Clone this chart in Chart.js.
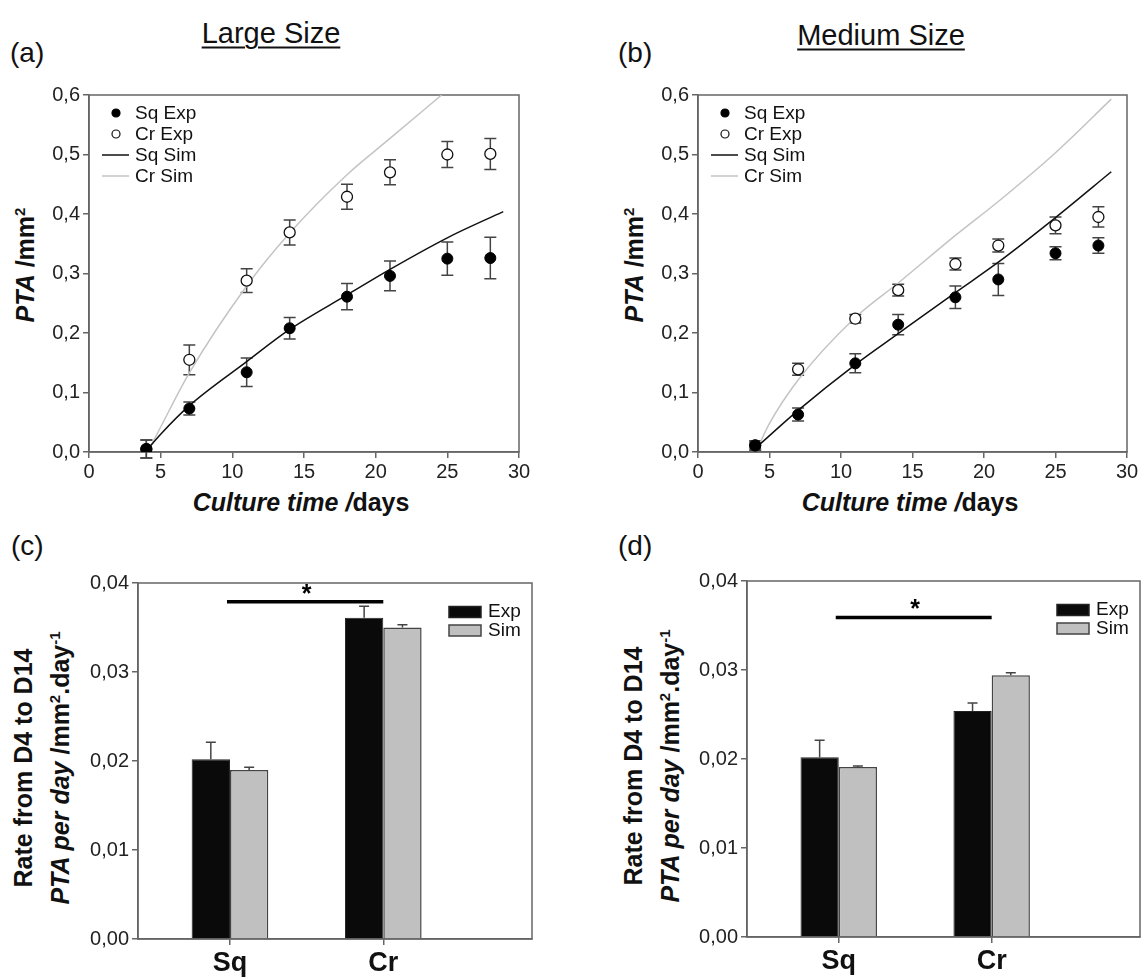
<!DOCTYPE html>
<html>
<head>
<meta charset="utf-8">
<script src="https://cdn.jsdelivr.net/npm/chart.js@4.4.1/dist/chart.umd.min.js"></script>
<style>
  body { margin: 0; background: #fff; }
  #fig { position: relative; width: 1144px; height: 979px; font-family: "Liberation Sans", Arial, sans-serif; color: #111; overflow: hidden; }
  canvas { position: absolute; }
  .t { position: absolute; white-space: nowrap; transform: translate(-50%, -50%); line-height: 1; }
  .lab { position: absolute; font-size: 28px; transform: translateY(-50%); line-height: 1; }
  .head { font-size: 29px; text-decoration: underline; text-decoration-thickness: 2px; text-underline-offset: 4px; }
  .xt { font-size: 25px; font-weight: bold; }
  .yt { font-size: 25px; font-weight: bold; transform: translate(-50%, -50%) rotate(-90deg); }
  sup { font-size: 60%; }
</style>
</head>
<body>
<div id="fig">
  <div class="lab" style="left:10px;top:53px">(a)</div>
  <div class="lab" style="left:618px;top:53px">(b)</div>
  <div class="lab" style="left:11px;top:546px">(c)</div>
  <div class="lab" style="left:618px;top:546px">(d)</div>
  <div class="t head" style="left:271px;top:33px">Large Size</div>
  <div class="t head" style="left:881px;top:35px">Medium Size</div>
  <div class="t xt" style="left:301px;top:502px"><i>Culture time /</i>days</div>
  <div class="t xt" style="left:910px;top:502px"><i>Culture time /</i>days</div>
  <div class="t yt" style="left:25px;top:265px"><i>PTA</i> /mm<sup>2</sup></div>
  <div class="t yt" style="left:634px;top:265px"><i>PTA</i> /mm<sup>2</sup></div>
  <div class="t yt" style="left:23px;top:768px">Rate from D4 to D14</div>
  <div class="t yt" style="left:60px;top:768px"><i>PTA per day</i> /mm<sup>2</sup>.day<sup>-1</sup></div>
  <div class="t yt" style="left:633px;top:766px">Rate from D4 to D14</div>
  <div class="t yt" style="left:670px;top:766px"><i>PTA per day</i> /mm<sup>2</sup>.day<sup>-1</sup></div>

  <canvas id="cA" width="506" height="407" style="left:29px;top:80px"></canvas>
  <canvas id="cB" width="505" height="407" style="left:638px;top:80px"></canvas>
  <canvas id="cC" width="454" height="411" style="left:82px;top:568px"></canvas>
  <canvas id="cD" width="453" height="411" style="left:691px;top:566px"></canvas>
</div>
<script>
// culture days
const days = [4, 7, 11, 14, 18, 21, 25, 28];

// (a) large size
const sqExpA = [0.005, 0.073, 0.134, 0.208, 0.261, 0.296, 0.325, 0.326];
const sqErrA = [0.015, 0.011, 0.024, 0.018, 0.022, 0.025, 0.028, 0.035];
const crExpA = [0.005, 0.155, 0.288, 0.369, 0.429, 0.470, 0.500, 0.501];
const crErrA = [0.015, 0.025, 0.020, 0.021, 0.021, 0.021, 0.022, 0.026];
const sqSimDaysA = [4.1, 5, 7, 11, 14, 18, 21, 25, 28.9];
const sqSimA = [0.005, 0.030, 0.078, 0.152, 0.206, 0.264, 0.307, 0.360, 0.404];
const crSimDaysA = [4.1, 5, 7, 11, 14, 18, 21, 24.6];
const crSimA = [0.0, 0.042, 0.133, 0.279, 0.368, 0.466, 0.527, 0.6];

// (b) medium size
const sqExpB = [0.011, 0.063, 0.149, 0.214, 0.260, 0.290, 0.334, 0.347];
const sqErrB = [0.006, 0.011, 0.016, 0.017, 0.019, 0.027, 0.011, 0.013];
const crExpB = [0.011, 0.139, 0.224, 0.272, 0.316, 0.347, 0.381, 0.395];
const crErrB = [0.008, 0.010, 0.007, 0.010, 0.010, 0.011, 0.014, 0.017];
const sqSimDaysB = [4, 7, 11, 14, 18, 21, 25, 28.9];
const sqSimB = [0.006, 0.070, 0.147, 0.199, 0.268, 0.319, 0.394, 0.471];
const crSimDaysB = [4.1, 5, 7, 11, 14, 18, 21, 25, 28.9];
const crSimB = [0.003, 0.048, 0.121, 0.226, 0.284, 0.364, 0.421, 0.503, 0.593];

// (c), (d) rate from D4 to D14
const cats = ['Sq', 'Cr'];
const expC = [0.0202, 0.0361];
const expErrC = [0.0019, 0.0013];
const simC = [0.0190, 0.0350];
const simErrC = [0.0003, 0.0003];
const sigC = [1, 2, 0.0379];
const expD = [0.0202, 0.0254];
const expErrD = [0.0019, 0.0009];
const simD = [0.0191, 0.0294];
const simErrD = [0.0001, 0.0003];
const sigD = [1, 2, 0.0359];

const FONT = '"Liberation Sans", Arial, sans-serif';
const AXIS = '#666';

const pts = (xs, ys) => xs.map((x, i) => ({ x: x, y: ys[i] }));
const comma = d => v => v.toFixed(d).replace('.', ',');

// box round the plot area
const frame = {
  id: 'frame',
  beforeDatasetsDraw(chart) {
    const a = chart.chartArea, ctx = chart.ctx;
    ctx.save();
    ctx.strokeStyle = AXIS;
    ctx.lineWidth = 1.5;
    ctx.strokeRect(a.left, a.top, a.right - a.left, a.bottom - a.top);
    ctx.restore();
  }
};

// vertical error bars from dataset.errors
const errorBars = {
  id: 'errorBars',
  beforeDatasetsDraw(chart) {
    const ctx = chart.ctx, ys = chart.scales.y;
    ctx.save();
    ctx.strokeStyle = '#444';
    ctx.lineWidth = 1.5;
    chart.data.datasets.forEach((ds, i) => {
      if (!ds.errors) return;
      const meta = chart.getDatasetMeta(i);
      meta.data.forEach((el, j) => {
        const v = ds.data[j].y, e = ds.errors[j];
        const bar = chart.config.type === 'bar';
        const y1 = ys.getPixelForValue(v + e);
        const y0 = bar ? el.y : ys.getPixelForValue(v - e);
        const w = bar ? 5 : 6;
        ctx.beginPath();
        ctx.moveTo(el.x, y0); ctx.lineTo(el.x, y1);
        ctx.moveTo(el.x - w, y1); ctx.lineTo(el.x + w, y1);
        if (!bar) { ctx.moveTo(el.x - w, y0); ctx.lineTo(el.x + w, y0); }
        ctx.stroke();
      });
    });
    ctx.restore();
  }
};

// legend drawn inside the plot area
const innerLegend = {
  id: 'innerLegend',
  afterDraw(chart, args, o) {
    const ctx = chart.ctx, a = chart.chartArea;
    ctx.save();
    ctx.font = o.size + 'px ' + FONT;
    ctx.textBaseline = 'middle';
    ctx.fillStyle = '#111';
    const x0 = o.right ? a.right - o.x : a.left + o.x;
    chart.data.datasets.forEach((ds, i) => {
      const y = a.top + o.y + i * o.dy;
      if (chart.config.type === 'bar') {
        ctx.fillStyle = ds.backgroundColor;
        ctx.strokeStyle = ds.borderColor;
        ctx.lineWidth = 1.5;
        ctx.fillRect(x0, y - 5.5, 32, 11);
        ctx.strokeRect(x0, y - 5.5, 32, 11);
        ctx.fillStyle = '#111';
        ctx.fillText(ds.label, x0 + 39, y);
        return;
      }
      if (ds.showLine === false) {
        ctx.beginPath();
        ctx.arc(x0 + 14, y, 4, 0, Math.PI * 2);
        ctx.fillStyle = ds.pointBackgroundColor;
        ctx.fill();
        ctx.strokeStyle = ds.pointBorderColor;
        ctx.lineWidth = 1.2;
        ctx.stroke();
      } else {
        ctx.beginPath();
        ctx.moveTo(x0, y); ctx.lineTo(x0 + 27, y);
        ctx.strokeStyle = ds.borderColor;
        ctx.lineWidth = 1.5;
        ctx.stroke();
      }
      ctx.fillStyle = '#111';
      ctx.fillText(ds.label, x0 + 33, y + 1);
    });
    ctx.restore();
  }
};

// significance bar with star
const signif = {
  id: 'signif',
  afterDatasetsDraw(chart, args, o) {
    const ctx = chart.ctx, xs = chart.scales.x, ys = chart.scales.y;
    const x1 = xs.getPixelForValue(o.line[0]), x2 = xs.getPixelForValue(o.line[1]);
    const y = ys.getPixelForValue(o.line[2]);
    ctx.save();
    ctx.strokeStyle = '#000';
    ctx.lineWidth = 3.5;
    ctx.beginPath(); ctx.moveTo(x1 - 3, y); ctx.lineTo(x2, y); ctx.stroke();
    ctx.fillStyle = '#000';
    ctx.font = 'bold 25px ' + FONT;
    ctx.textAlign = 'center';
    ctx.textBaseline = 'middle';
    ctx.fillText('*', (x1 + x2) / 2, y - 7);
    ctx.restore();
  }
};

function tickFont(size, weight) {
  return { family: FONT, size: size, weight: weight || 'normal' };
}

function lineChart(id, sqExp, sqErr, crExp, crErr, sqX, sqSim, crX, crSim) {
  return new Chart(document.getElementById(id), {
    type: 'scatter',
    data: {
      datasets: [
        { label: 'Sq Exp', data: pts(days, sqExp), errors: sqErr, showLine: false, order: 1,
          pointRadius: 5.5, pointBackgroundColor: '#000', pointBorderColor: '#000', pointBorderWidth: 1 },
        { label: 'Cr Exp', data: pts(days, crExp), errors: crErr, showLine: false, order: 2,
          pointRadius: 5.5, pointBackgroundColor: '#fff', pointBorderColor: '#111', pointBorderWidth: 1.3 },
        { label: 'Sq Sim', data: pts(sqX, sqSim), showLine: true, order: 3, pointRadius: 0,
          borderColor: '#111', borderWidth: 1.5, cubicInterpolationMode: 'monotone' },
        { label: 'Cr Sim', data: pts(crX, crSim), showLine: true, order: 4, pointRadius: 0,
          borderColor: '#c4c4c4', borderWidth: 1.5, cubicInterpolationMode: 'monotone' }
      ]
    },
    options: {
      responsive: false,
      animation: false,
      events: [],
      layout: { padding: { top: 14, right: 16, left: 0, bottom: 0 } },
      plugins: {
        legend: { display: false },
        tooltip: { enabled: false },
        innerLegend: { x: 13, y: 18, dy: 21, size: 19 }
      },
      scales: {
        x: {
          type: 'linear', min: 0, max: 30,
          ticks: { stepSize: 5, font: tickFont(20), color: '#222', padding: 2, maxRotation: 0 },
          grid: { drawOnChartArea: false, tickLength: 6, color: AXIS, lineWidth: 1.5 },
          border: { color: AXIS, width: 1.5 },
          afterFit: s => { s.height = 35; }
        },
        y: {
          min: 0, max: 0.6,
          ticks: { stepSize: 0.1, font: tickFont(20), color: '#222', padding: 3, callback: comma(1) },
          grid: { drawOnChartArea: false, tickLength: 6, color: AXIS, lineWidth: 1.5 },
          border: { color: AXIS, width: 1.5 },
          afterFit: s => { s.width = 60; }
        }
      }
    },
    plugins: [frame, errorBars, innerLegend]
  });
}

function barChart(id, exp, expErr, sim, simErr, sig) {
  return new Chart(document.getElementById(id), {
    type: 'bar',
    data: {
      datasets: [
        { label: 'Exp', data: pts([1, 2], exp), errors: expErr, backgroundColor: '#0a0a0a',
          borderColor: '#222', borderWidth: 1 },
        { label: 'Sim', data: pts([1, 2], sim), errors: simErr, backgroundColor: '#c0c0c0',
          borderColor: '#444', borderWidth: 1.5 }
      ]
    },
    options: {
      responsive: false,
      animation: false,
      events: [],
      categoryPercentage: 0.5,
      barPercentage: 1,
      layout: { padding: { top: 12, right: 4, left: 0, bottom: 0 } },
      plugins: {
        legend: { display: false },
        tooltip: { enabled: false },
        innerLegend: { right: true, x: 83, y: 29, dy: 18.5, size: 19 },
        signif: { line: sig }
      },
      scales: {
        x: {
          type: 'linear', min: 0.4, max: 2.97, offset: false,
          afterBuildTicks: s => { s.ticks = [{ value: 1 }, { value: 2 }]; },
          ticks: { font: tickFont(27, 'bold'), color: '#111', padding: 2, maxRotation: 0,
            callback: (v, i) => cats[i] },
          grid: { drawOnChartArea: false, offset: false, tickLength: 6, color: AXIS, lineWidth: 1.5 },
          border: { color: AXIS, width: 1.5 },
          afterFit: s => { s.height = 40; }
        },
        y: {
          min: 0, max: 0.04,
          ticks: { stepSize: 0.01, font: tickFont(20), color: '#222', padding: 3, callback: comma(2) },
          grid: { drawOnChartArea: false, tickLength: 6, color: AXIS, lineWidth: 1.5 },
          border: { color: AXIS, width: 1.5 },
          afterFit: s => { s.width = 56; }
        }
      }
    },
    plugins: [frame, errorBars, innerLegend, signif]
  });
}

lineChart('cA', sqExpA, sqErrA, crExpA, crErrA, sqSimDaysA, sqSimA, crSimDaysA, crSimA);
lineChart('cB', sqExpB, sqErrB, crExpB, crErrB, sqSimDaysB, sqSimB, crSimDaysB, crSimB);
barChart('cC', expC, expErrC, simC, simErrC, sigC);
barChart('cD', expD, expErrD, simD, simErrD, sigD);
</script>
</body>
</html>
